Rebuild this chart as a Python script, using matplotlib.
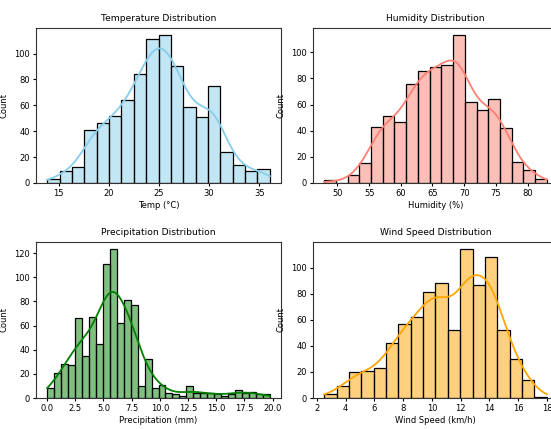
import numpy as np
import pandas as pd
import matplotlib
matplotlib.use('Agg')
import matplotlib.pyplot as plt
from matplotlib import font_manager
from matplotlib.ticker import MultipleLocator
import seaborn as sns

# histogram bins: first edge, bin width, counts per bin
temp_start, temp_width = 13.85, 1.234
temp_counts = [3, 9, 12, 41, 46, 52, 64, 84, 111, 114, 90, 59, 51, 75, 24, 14, 9, 11]

hum_start, hum_width = 47.9, 1.85
hum_counts = [2, 0, 6, 15, 43, 51, 47, 76, 86, 89, 90, 113, 62, 56, 64, 42, 16, 10, 3]

prec_start, prec_width = 0.0, 0.6175
prec_counts = [8, 21, 28, 27, 66, 35, 67, 45, 111, 123, 62, 81, 77, 10, 32, 8,
               11, 4, 3, 2, 10, 4, 4, 4, 3, 2, 3, 7, 4, 5, 3, 3]

wind_start, wind_width = 2.51, 0.86
wind_counts = [3, 9, 20, 21, 23, 42, 57, 62, 81, 88, 52, 114, 87, 108, 52, 30, 14, 1]

titles = ['Temperature Distribution', 'Humidity Distribution',
          'Precipitation Distribution', 'Wind Speed Distribution']
xlabels = ['Temp (°C)', 'Humidity (%)', 'Precipitation (mm)', 'Wind Speed (km/h)']
colors = ['skyblue', 'salmon', 'green', 'orange']
xsteps = [5, 5, 2.5, 2]

try:
    font_manager.findfont('Liberation Sans Narrow', fallback_to_default=False)
    plt.rcParams['font.family'] = ['Liberation Sans Narrow', 'DejaVu Sans']
    fs_title, fs_text = 8, 7
except ValueError:
    plt.rcParams['font.family'] = ['DejaVu Sans']
    fs_title, fs_text = 6.6, 6

W, H = 551, 429
fig = plt.figure(figsize=(W / 100, H / 100), dpi=100)
# axes boxes in pixels (left, top, right, bottom); right column runs past the crop
boxes = [(36, 28, 281, 183), (313, 28, 558, 183),
         (36, 242, 281, 398), (313, 242, 558, 398)]


def hist_panel(ax, start, width, counts, color, title, xlabel, xstep):
    counts = np.array(counts, dtype=float)
    edges = start + width * np.arange(len(counts) + 1)
    centers = (edges[:-1] + edges[1:]) / 2
    # outer edges with zero weight so the kde spans the whole bin range
    df = pd.DataFrame({'v': np.concatenate([[edges[0]], centers, [edges[-1]]]),
                       'w': np.concatenate([[0], counts, [0]])})
    # scott's factor on the real number of observations
    bw = counts.sum() ** -0.2
    sns.histplot(data=df, x='v', weights='w', bins=list(edges), kde=True, color=color,
                 edgecolor='black', linewidth=0.9, alpha=0.5, ax=ax,
                 kde_kws={'bw_method': bw, 'bw_adjust': 1.1}, line_kws={'linewidth': 1.3})
    ax.xaxis.set_major_locator(MultipleLocator(xstep))
    ax.yaxis.set_major_locator(MultipleLocator(20))
    ax.set_title(title, fontsize=fs_title, pad=5)
    ax.set_xlabel(xlabel, fontsize=fs_text, labelpad=2)
    ax.set_ylabel('Count', fontsize=fs_text, labelpad=4)
    ax.tick_params(labelsize=fs_text, length=2.5, pad=2)
    for s in ax.spines.values():
        s.set_color('#333333')


data = [(temp_start, temp_width, temp_counts), (hum_start, hum_width, hum_counts),
        (prec_start, prec_width, prec_counts), (wind_start, wind_width, wind_counts)]
for i in range(4):
    l, t, r, b = boxes[i]
    ax = fig.add_axes([l / W, 1 - b / H, (r - l) / W, (b - t) / H])
    hist_panel(ax, *data[i], colors[i], titles[i], xlabels[i], xsteps[i])

fig.savefig('out.png', dpi=100)
